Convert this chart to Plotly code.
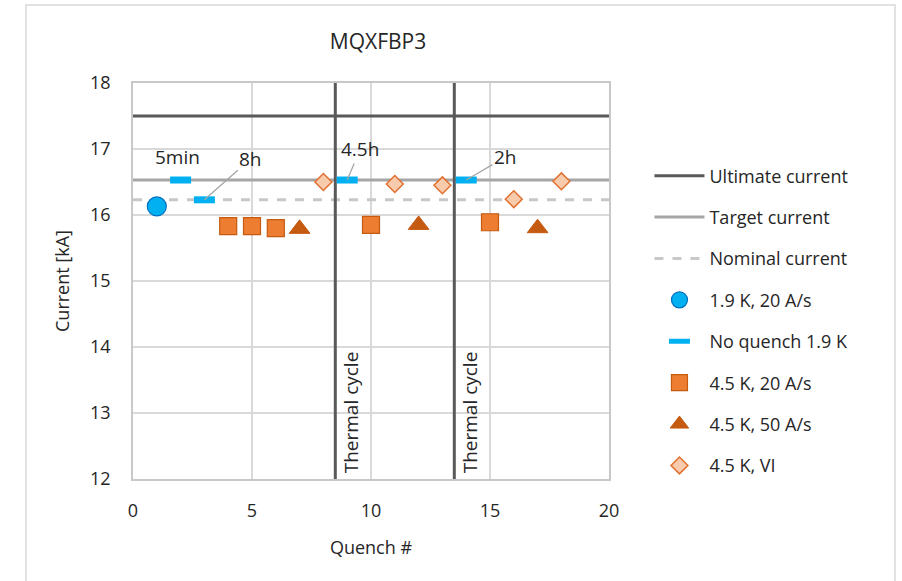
import plotly.graph_objects as go

# ---- data ----
ultimate_current = 17.5
target_current = 16.53
nominal_current = 16.23
thermal_cycles = [8.5, 13.5]
x_span = [0, 20]

q19_x = [1]
q19_y = [16.13]

noq_x = [2, 3, 9, 14]
noq_y = [16.53, 16.23, 16.53, 16.53]

q45_20_x = [4, 5, 6, 10, 15]
q45_20_y = [15.83, 15.83, 15.80, 15.85, 15.89]

q45_50_x = [7, 12, 17]
q45_50_y = [15.79, 15.85, 15.80]

q45_vi_x = [8, 11, 13, 16, 18]
q45_vi_y = [16.50, 16.47, 16.45, 16.24, 16.51]

labels_text = ["5min", "8h", "4.5h", "2h"]
labels_point = [None, 1, 2, 3]  # index into no-quench points (None -> no leader)
labels_pos_x = [1.89, 4.95, 9.55, 15.65]
labels_pos_y = [16.88, 16.85, 17.0, 16.88]

FONT = "Open Sans"
TXT = "#262626"
fig = go.Figure()

fig.add_trace(go.Scatter(x=x_span, y=[ultimate_current] * 2, mode="lines",
                         line=dict(color="#595959", width=3), name="Ultimate current",
                         legendgroup="a"))
fig.add_trace(go.Scatter(x=x_span, y=[target_current] * 2, mode="lines",
                         line=dict(color="#a6a6a6", width=3), name="Target current",
                         legendgroup="b"))
fig.add_trace(go.Scatter(x=x_span, y=[nominal_current] * 2, mode="lines",
                         line=dict(color="#c8c8c8", width=3, dash="dash"), name="Nominal current",
                         legendgroup="c"))
for tc in thermal_cycles:
    fig.add_trace(go.Scatter(x=[tc, tc], y=[12, 18], mode="lines",
                             line=dict(color="#595959", width=3), showlegend=False,
                             hoverinfo="skip"))

fig.add_trace(go.Scatter(x=q19_x, y=q19_y, mode="markers", name="1.9 K, 20 A/s",
                         marker=dict(symbol="circle", size=19, color="#00b0f0",
                                     line=dict(color="#0070c0", width=1.2)),
                         legendgroup="d"))
fig.add_trace(go.Scatter(x=noq_x, y=noq_y, mode="markers", name="No quench 1.9 K",
                         marker=dict(symbol="line-ew", size=15,
                                     line=dict(color="#00b0f0", width=7)),
                         legendgroup="e"))
fig.add_trace(go.Scatter(x=q45_20_x, y=q45_20_y, mode="markers", name="4.5 K, 20 A/s",
                         marker=dict(symbol="square", size=17, color="#ed7d31",
                                     line=dict(color="#c55a11", width=1.2)),
                         legendgroup="f"))
fig.add_trace(go.Scatter(x=q45_50_x, y=q45_50_y, mode="markers", name="4.5 K, 50 A/s",
                         marker=dict(symbol="triangle-up", size=18, color="#c55a11",
                                     line=dict(color="#c55a11", width=1)),
                         legendgroup="g"))
fig.add_trace(go.Scatter(x=q45_vi_x, y=q45_vi_y, mode="markers", name="4.5 K, VI",
                         marker=dict(symbol="diamond", size=13, color="#f8cbad",
                                     line=dict(color="#e07030", width=1.5)),
                         legendgroup="h"))

annotations = []
for t, pi, px, py in zip(labels_text, labels_point, labels_pos_x, labels_pos_y):
    if pi is None:
        annotations.append(dict(x=px, y=py, xref="x", yref="y", text=t, showarrow=False,
                                font=dict(family=FONT, size=19, color=TXT)))
    else:
        annotations.append(dict(x=noq_x[pi], y=noq_y[pi], xref="x", yref="y",
                                ax=px, ay=py, axref="x", ayref="y", text=t,
                                showarrow=True, arrowhead=0, arrowwidth=1.3,
                                arrowcolor="#a6a6a6", standoff=0,
                                font=dict(family=FONT, size=19, color=TXT)))
for tc in thermal_cycles:
    annotations.append(dict(x=tc, y=12, xref="x", yref="y", text="Thermal cycle",
                            textangle=-90, showarrow=False, xanchor="left", yanchor="bottom",
                            xshift=1, yshift=4,
                            font=dict(family=FONT, size=19, color=TXT)))

fig.update_layout(
    width=902, height=581,
    margin=dict(l=133, r=293, t=83, b=102),
    paper_bgcolor="white", plot_bgcolor="white",
    font=dict(family=FONT, size=18, color=TXT),
    title=dict(text="MQXFBP3", x=378 / 902, xanchor="center", y=1 - 42 / 581,
               yanchor="middle", font=dict(family=FONT, size=21, color=TXT)),
    xaxis=dict(range=[0, 20], dtick=5, showgrid=True, gridcolor="#d9d9d9", gridwidth=1.5,
               showline=True, linecolor="#c8c8c8", linewidth=1.5, mirror=True,
               zeroline=False, ticks="", ticklabelstandoff=15,
               title=dict(text="Quench #", font=dict(family=FONT, size=18), standoff=20)),
    yaxis=dict(range=[12, 18], dtick=1, showgrid=True, gridcolor="#d9d9d9", gridwidth=1.5,
               showline=True, linecolor="#c8c8c8", linewidth=1.5, mirror=True,
               zeroline=False, ticks="", ticklabelstandoff=17,
               title=dict(text="Current [kA]", font=dict(family=FONT, size=18), standoff=16)),
    legend=dict(x=1.085, xanchor="left", y=0.812, yanchor="top",
                font=dict(family=FONT, size=18, color=TXT),
                tracegroupgap=15, itemwidth=50, bgcolor="rgba(0,0,0,0)"),
    annotations=annotations,
    shapes=[dict(type="rect", xref="paper", yref="paper",
                 x0=(26 - 133) / 476, x1=(895 - 133) / 476,
                 y0=(479 - 600) / 396, y1=(479 - 5) / 396,
                 line=dict(color="#d9d9d9", width=1.5), fillcolor="rgba(0,0,0,0)",
                 layer="below")],
    showlegend=True,
)

fig.write_html("out.html")
